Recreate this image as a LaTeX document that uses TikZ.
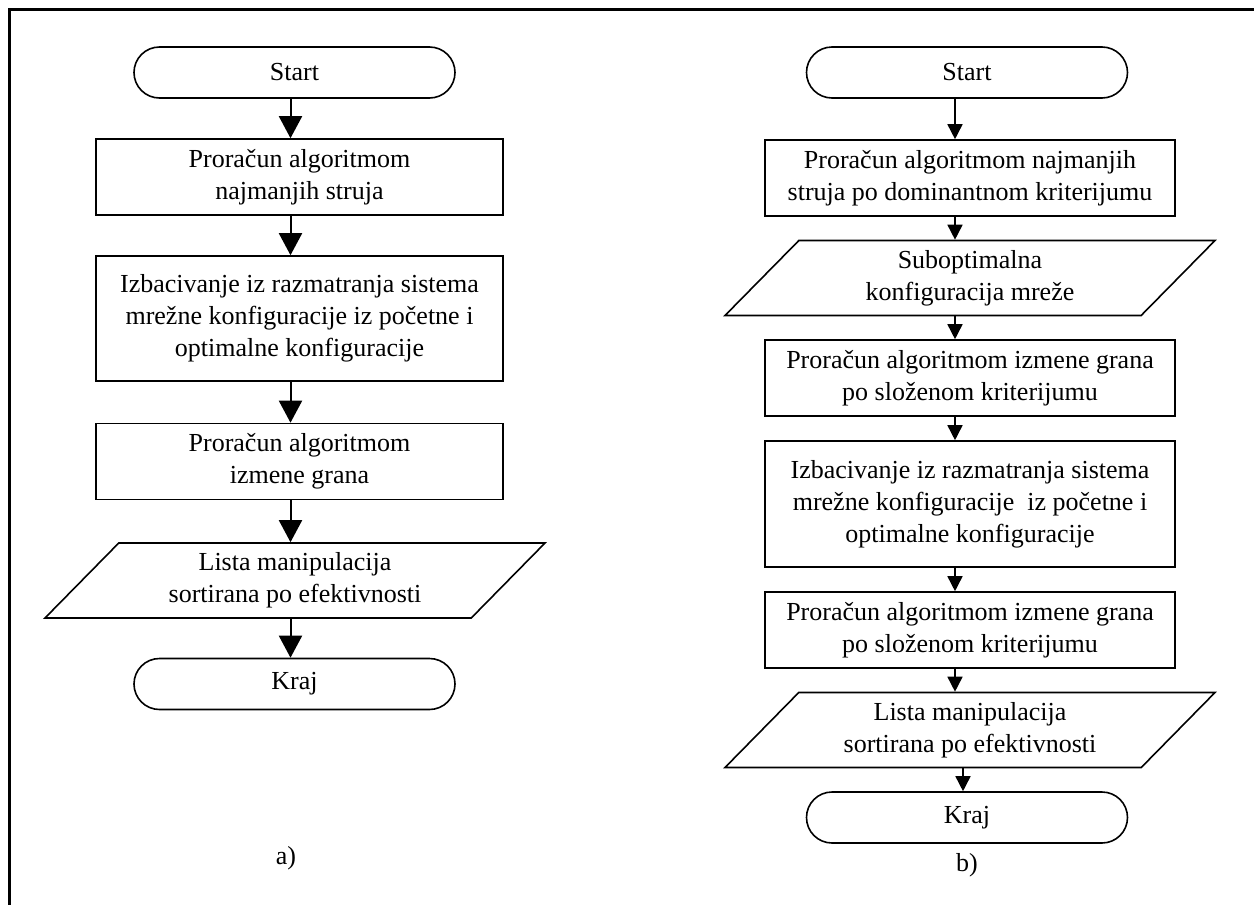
\documentclass[tikz,border=0pt]{standalone}
\usepackage{fontspec}
\setmainfont{Liberation Serif}
\usetikzlibrary{arrows.meta,positioning,shapes.geometric,shapes.misc}

\begin{document}
\begin{tikzpicture}[x=0.5pt,y=-0.5pt,
  every node/.style={font=\fontsize{13}{16}\selectfont,align=center,inner sep=0pt},
  term/.style={draw,line width=0.8pt,rounded rectangle,minimum width=160.5pt,minimum height=25.5pt},
  proca/.style={draw,line width=0.8pt,rectangle,minimum width=203.5pt,minimum height=38pt},
  procb/.style={draw,line width=0.8pt,rectangle,minimum width=205pt,minimum height=38pt},
  iobox/.style={draw,line width=0.8pt,trapezium,trapezium left angle=37,trapezium right angle=143,
    trapezium stretches body,minimum height=37.5pt},
  arra/.style={line width=1pt,-{Triangle[length=11pt,width=11.5pt]}},
  arrb/.style={line width=0.8pt,-{Triangle[length=7.5pt,width=7.5pt]}}]
\useasboundingbox (0,0) rectangle (1254,905);
\draw[line width=1.5pt] (9,905) -- (9,9) -- (1254,9);

% a)
\node[term] (sa) at (294.5,72.5) {Start};
\node[proca] (a1) at (299.5,177) {Proračun algoritmom\\najmanjih struja};
\node[proca,minimum height=62.5pt] (a2) at (299.5,318.5) {Izbacivanje iz razmatranja sistema\\mrežne konfiguracije iz početne i\\optimalne konfiguracije};
\node[proca] (a3) at (299.5,461.5) {Proračun algoritmom\\izmene grana};
\node[iobox,minimum width=250pt] (a4) at (295,580.5) {Lista manipulacija\\sortirana po efektivnosti};
\node[term] (ka) at (294.5,684) {Kraj};
\node (la) at (286,858) {a)};
\coordinate (ax) at (290.5,0);
\draw[arra] (sa.south -| ax) -- (a1.north -| ax);
\draw[arra] (a1.south -| ax) -- (a2.north -| ax);
\draw[arra] (a2.south -| ax) -- (a3.north -| ax);
\draw[arra] (a3.south -| ax) -- (a4.north -| ax);
\draw[arra] (a4.south -| ax) -- (ka.north -| ax);

% b)
\node[term] (sb) at (967,72.5) {Start};
\node[procb] (b1) at (970,178) {Proračun algoritmom najmanjih\\struja po dominantnom kriterijumu};
\node[iobox,minimum width=245pt] (b2) at (970,278) {Suboptimalna\\konfiguracija mreže};
\node[procb] (b3) at (970,378) {Proračun algoritmom izmene grana\\po složenom kriterijumu};
\node[procb,minimum height=63pt] (b4) at (970,504) {Izbacivanje iz razmatranja sistema\\mrežne konfiguracije\ \ iz početne i\\optimalne konfiguracije};
\node[procb] (b5) at (970,630) {Proračun algoritmom izmene grana\\po složenom kriterijumu};
\node[iobox,minimum width=245pt] (b6) at (970,730) {Lista manipulacija\\sortirana po efektivnosti};
\node[term] (kb) at (967,817.5) {Kraj};
\node (lb) at (967,865) {b)};
\coordinate (bx) at (955,0);
\coordinate (bk) at (963,0);
\draw[arrb] (sb.south -| bx) -- (b1.north -| bx);
\draw[arrb] (b1.south -| bx) -- (b2.north -| bx);
\draw[arrb] (b2.south -| bx) -- (b3.north -| bx);
\draw[arrb] (b3.south -| bx) -- (b4.north -| bx);
\draw[arrb] (b4.south -| bx) -- (b5.north -| bx);
\draw[arrb] (b5.south -| bx) -- (b6.north -| bx);
\draw[arrb] (b6.south -| bk) -- (kb.north -| bk);
\end{tikzpicture}
\end{document}
